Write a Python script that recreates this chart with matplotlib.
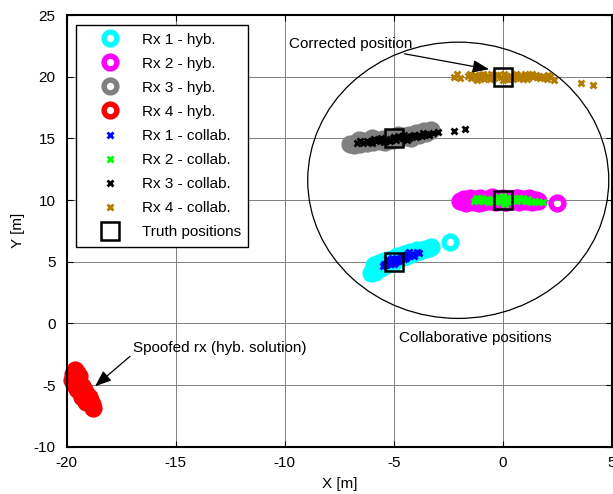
import matplotlib
matplotlib.use("Agg")
import matplotlib.pyplot as plt
from matplotlib.patches import Ellipse

plt.rcParams["font.family"] = ["Liberation Sans", "DejaVu Sans"]
plt.rcParams["font.size"] = 11
plt.rcParams["axes.unicode_minus"] = False

# Rx 1 - hybrid solution
rx1_hyb_x = [-6.05, -5.95, -5.85, -5.75, -5.6, -5.5, -5.35, -5.2, -5.05, -4.9, -4.75, -4.6,
             -4.45, -4.3, -4.15, -4.0, -3.85, -3.7, -3.55, -3.4, -3.3, -5.9, -5.7, -5.45,
             -5.15, -4.85, -4.55, -4.25, -3.95, -2.45]
rx1_hyb_y = [4.05, 4.35, 4.15, 4.55, 4.45, 4.75, 4.7, 4.95, 4.9, 5.2, 5.25, 5.4,
             5.45, 5.55, 5.7, 5.75, 5.85, 5.95, 6.0, 6.1, 6.15, 4.7, 4.9, 5.05,
             5.2, 5.45, 5.6, 5.8, 5.95, 6.62]

# Rx 2 - hybrid solution
rx2_hyb_x = [-1.95, -1.8, -1.65, -1.5, -1.35, -1.2, -1.05, -0.9, -0.75, -0.6, -0.45, -0.3,
             -0.15, 0.0, 0.15, 0.3, 0.45, 0.6, 0.75, 0.9, 1.05, 1.2, 1.35, 1.5, 1.6,
             -1.7, -1.1, -0.5, 0.1, 0.7, 1.3, 2.5]
rx2_hyb_y = [9.9, 10.1, 9.85, 10.15, 9.8, 10.05, 10.2, 9.85, 10.1, 9.9, 10.2, 9.8,
             10.05, 10.15, 9.85, 10.1, 9.9, 10.2, 9.85, 10.05, 9.9, 10.15, 9.85, 10.0, 9.9,
             9.75, 9.75, 10.25, 9.8, 10.2, 10.1, 9.75]

# Rx 3 - hybrid solution
rx3_hyb_x = [-7.0, -6.85, -6.7, -6.55, -6.4, -6.25, -6.1, -5.95, -5.8, -5.65, -5.5, -5.35,
             -5.2, -5.05, -4.9, -4.75, -4.6, -4.45, -4.3, -4.15, -4.0, -3.85, -3.7, -3.55,
             -3.4, -3.3, -6.6, -6.0, -5.4, -4.8, -4.2, -3.6]
rx3_hyb_y = [14.55, 14.5, 14.7, 14.55, 14.75, 14.6, 14.8, 14.7, 14.9, 14.75, 14.95, 14.85,
             15.05, 14.9, 15.1, 15.0, 15.2, 15.1, 15.3, 15.2, 15.4, 15.3, 15.5, 15.4,
             15.6, 15.65, 14.9, 15.0, 14.7, 15.3, 15.0, 15.6]

# Rx 4 - hybrid solution (spoofed receiver)
rx4_hyb_x = [-19.62, -19.7, -19.55, -19.76, -19.6, -19.45, -19.68, -19.5, -19.39, -19.3,
             -19.55, -19.2, -19.4, -19.16, -19.05, -19.3, -18.98, -18.93, -19.1, -18.85, -18.8]
rx4_hyb_y = [-3.8, -4.1, -4.0, -4.6, -4.4, -4.3, -4.9, -4.8, -5.0, -5.1, -5.3, -5.4,
             -5.6, -5.56, -5.8, -5.95, -6.0, -6.2, -6.4, -6.5, -6.87]

# Rx 1 - collaborative solution
rx1_col_x = [-5.5, -5.45, -5.35, -5.3, -5.25, -5.2, -5.15, -5.1, -5.05, -5.0, -4.95, -4.9,
             -4.85, -4.8, -4.75, -4.7, -4.6, -4.5, -4.45, -4.35, -4.25, -4.1, -3.95, -3.85,
             -5.4, -5.2, -5.0, -4.8, -4.65, -4.55, -4.4, -5.3, -5.1, -4.9, -4.3, -4.15]
rx1_col_y = [4.65, 4.85, 4.75, 5.0, 4.9, 5.1, 4.85, 5.05, 4.95, 5.15, 5.0, 5.2,
             5.1, 5.25, 5.15, 5.3, 5.35, 5.45, 5.3, 5.5, 5.55, 5.5, 5.8, 5.7,
             4.7, 4.8, 4.85, 5.05, 5.4, 5.2, 5.6, 5.2, 5.3, 4.95, 5.75, 5.65]

# Rx 2 - collaborative solution
rx2_col_x = [-1.35, -1.25, -1.15, -1.05, -0.95, -0.85, -0.75, -0.6, -0.5, -0.4, -0.3, -0.2,
             -0.1, 0.0, 0.1, 0.2, 0.3, 0.4, 0.55, 0.65, 0.8, 0.9, 1.0, 1.15, 1.3, 1.45,
             1.6, 1.85, -0.25, 0.05, 0.25, -0.15, 0.15, -1.2, -0.7, 0.7, 1.1]
rx2_col_y = [9.95, 10.1, 9.9, 10.05, 10.15, 9.95, 10.05, 9.9, 10.1, 10.0, 9.8, 10.2,
             9.9, 10.3, 9.7, 10.15, 9.85, 10.0, 10.15, 9.9, 10.05, 10.2, 9.95, 10.1, 9.85, 9.9,
             9.8, 9.85, 10.25, 9.75, 10.2, 9.95, 10.05, 10.2, 9.85, 10.2, 9.9]

# Rx 3 - collaborative solution
rx3_col_x = [-6.7, -6.55, -6.4, -6.25, -6.1, -5.95, -5.8, -5.65, -5.5, -5.35, -5.2, -5.05,
             -4.9, -4.75, -4.6, -4.45, -4.3, -4.15, -4.0, -3.85, -3.7, -3.55, -3.4, -3.2,
             -3.0, -6.0, -5.6, -5.2, -4.8, -4.4, -5.9, -5.45, -5.0, -4.55, -4.1, -3.65,
             -2.24, -1.74]
rx3_col_y = [14.6, 14.75, 14.65, 14.8, 14.7, 14.85, 14.75, 14.9, 14.8, 14.95, 14.85, 15.0,
             14.9, 15.05, 15.0, 15.1, 15.05, 15.2, 15.1, 15.25, 15.2, 15.35, 15.3, 15.4,
             15.5, 14.65, 15.0, 14.75, 15.15, 14.9, 14.95, 14.7, 15.1, 15.25, 15.3, 15.4,
             15.6, 15.72]

# Rx 4 - collaborative solution (corrected)
rx4_col_x = [-2.25, -2.1, -1.95, -1.6, -1.45, -1.3, -1.15, -1.0, -0.85, -0.7, -0.55, -0.4,
             -0.25, -0.1, 0.05, 0.2, 0.35, 0.5, 0.65, 0.8, 0.95, 1.1, 1.25, 1.4, 1.55,
             1.7, 1.85, 2.0, 2.15, 2.35, -1.2, -0.6, 0.0, 0.6, 1.2, 1.8, -0.9, 0.3, 0.9,
             -1.5, -0.75, -0.3, 0.45, 1.0, 1.5, 2.05, -1.05, 0.15, 0.75, 1.35,
             3.6, 4.15]
rx4_col_y = [20.0, 20.2, 19.9, 20.05, 19.9, 20.15, 19.95, 20.1, 19.85, 20.05, 20.2, 19.9,
             20.1, 19.95, 20.25, 19.85, 20.05, 19.95, 20.15, 19.9, 20.05, 19.85, 20.1, 19.95, 20.0,
             19.9, 20.05, 19.85, 19.95, 19.75, 19.75, 19.8, 19.75, 20.2, 20.15, 20.0, 20.25, 19.8, 19.8,
             20.2, 19.95, 20.15, 19.8, 20.25, 20.15, 20.1, 20.0, 20.05, 19.95, 20.2,
             19.47, 19.33]

# Truth positions of the four receivers
truth_x = [-5.0, 0.0, -5.0, 0.0]
truth_y = [5.0, 10.0, 15.0, 20.0]

fig = plt.figure(figsize=(6.13, 4.94), dpi=100)
ax = fig.add_axes([0.1088, 0.0958, 0.8896, 0.8738])

ring = dict(linestyle="none", marker="o", markersize=9.2, markeredgewidth=3.9,
            markerfacecolor="none")
ax.plot(rx1_hyb_x, rx1_hyb_y, markeredgecolor="#00FFFF", label="Rx 1 - hyb.", **ring)
ax.plot(rx2_hyb_x, rx2_hyb_y, markeredgecolor="#FF00FF", label="Rx 2 - hyb.", **ring)
ax.plot(rx3_hyb_x, rx3_hyb_y, markeredgecolor="#808080", label="Rx 3 - hyb.", **ring)
ax.plot(rx4_hyb_x, rx4_hyb_y, markeredgecolor="#FF0000", label="Rx 4 - hyb.",
        clip_on=False, **ring)

cross = dict(linestyle="none", marker="x", markersize=4.5, markeredgewidth=2.0)
ax.plot(rx1_col_x, rx1_col_y, color="#0000FF", label="Rx 1 - collab.", **cross)
ax.plot(rx2_col_x, rx2_col_y, color="#00FF00", label="Rx 2 - collab.", **cross)
ax.plot(rx3_col_x, rx3_col_y, color="#000000", label="Rx 3 - collab.", **cross)
ax.plot(rx4_col_x, rx4_col_y, color="#B47D00", label="Rx 4 - collab.", **cross)

ax.plot(truth_x, truth_y, linestyle="none", marker="s", markersize=12.5,
        markeredgewidth=1.8, markeredgecolor="black", markerfacecolor="none",
        label="Truth positions")

ax.add_patch(Ellipse((-2.05, 11.6), 13.8, 22.4, fill=False, edgecolor="black", linewidth=0.9))

ax.set_xlim(-20, 5)
ax.set_ylim(-10, 25)
ax.set_xticks([-20, -15, -10, -5, 0, 5])
ax.set_yticks([-10, -5, 0, 5, 10, 15, 20, 25])
ax.grid(True, color="#808080", linewidth=0.7)
ax.set_axisbelow(True)
ax.tick_params(direction="in", top=True, right=True, length=4, labelsize=11)
ax.tick_params(axis="x", pad=7)
ax.tick_params(axis="y", pad=8)
for sp in ax.spines.values():
    sp.set_linewidth(1.5)
ax.set_xlabel("X [m]", fontsize=11, labelpad=5)
ax.set_ylabel("Y [m]", fontsize=11, labelpad=6)

arrow = dict(arrowstyle="-|>,head_length=0.9,head_width=0.35", color="black",
             linewidth=0.9, shrinkA=0, shrinkB=0)
ax.annotate("Corrected position", xy=(-0.64, 20.6), xytext=(-9.79, 22.65),
            ha="left", va="center", fontsize=11, arrowprops=arrow)
ax.annotate("Spoofed rx (hyb. solution)", xy=(-18.7, -5.1), xytext=(-16.97, -2.03),
            ha="left", va="center", fontsize=11, arrowprops=dict(arrow, relpos=(0, 0.1)))
ax.text(-4.76, -1.18, "Collaborative positions", ha="left", va="center", fontsize=11)

leg = ax.legend(loc="upper left", bbox_to_anchor=(0.017, 0.977), borderaxespad=0,
                fancybox=False, edgecolor="black", framealpha=1, fontsize=11,
                handlelength=3.5, handletextpad=0.3, labelspacing=0.66, borderpad=0.5,
                numpoints=1)
leg.get_frame().set_linewidth(1.0)

fig.savefig("out.png", dpi=100)
